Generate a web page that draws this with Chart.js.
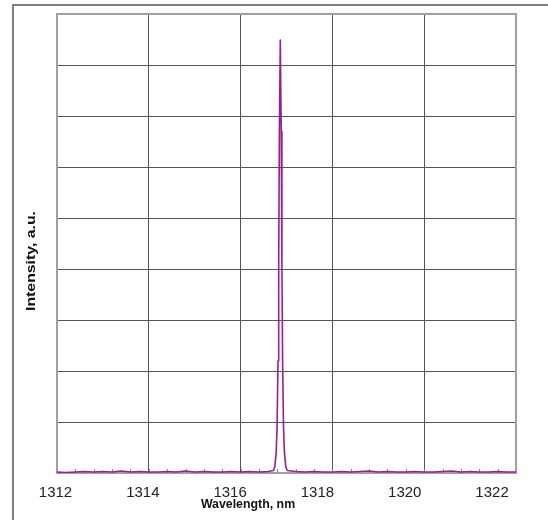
<!DOCTYPE html>
<html>
<head>
<meta charset="utf-8">
<script src="https://cdn.jsdelivr.net/npm/chart.js@4/dist/chart.umd.min.js"></script>
<style>
  html, body { margin: 0; padding: 0; background: #fff; }
  #wrap { width: 548px; height: 520px; }
</style>
</head>
<body>
<div id="wrap"><canvas id="spectrum" width="548" height="520"></canvas></div>
<script>
// spectrum: flat baseline with one narrow line near 1316.87 nm
const baseWavelengths = [
  1312.0, 1312.2, 1312.4, 1312.6, 1312.8, 1313.0, 1313.2, 1313.4, 1313.6, 1313.8,
  1314.0, 1314.2, 1314.4, 1314.6, 1314.8, 1315.0, 1315.2, 1315.4, 1315.6, 1315.8,
  1316.0, 1316.2, 1316.4, 1316.6
];
const baseIntensity = [
  0.02, 0.01, 0.02, 0.03, 0.02, 0.03, 0.02, 0.04, 0.02, 0.03,
  0.02, 0.02, 0.03, 0.02, 0.04, 0.02, 0.03, 0.02, 0.02, 0.03,
  0.02, 0.03, 0.02, 0.03
];
const peakWavelengths = [
  1316.715, 1316.745, 1316.775, 1316.795, 1316.815, 1316.83, 1316.845, 1316.865,
  1316.885, 1316.9, 1316.915, 1316.935, 1316.955, 1316.985, 1317.015
];
const peakIntensity = [
  0.05, 0.12, 0.4, 0.9, 2.2, 4.1, 6.7, 8.49,
  6.7, 4.1, 2.2, 0.9, 0.4, 0.12, 0.05
];
const tailWavelengths = [
  1317.2, 1317.4, 1317.6, 1317.8, 1318.0, 1318.2, 1318.4, 1318.6, 1318.8, 1319.0,
  1319.2, 1319.4, 1319.6, 1319.8, 1320.0, 1320.2, 1320.4, 1320.6, 1320.8, 1321.0,
  1321.2, 1321.4, 1321.6, 1321.8, 1322.0
];
const tailIntensity = [
  0.03, 0.02, 0.03, 0.02, 0.02, 0.03, 0.02, 0.03, 0.04, 0.02,
  0.03, 0.02, 0.02, 0.03, 0.02, 0.02, 0.03, 0.04, 0.02, 0.03,
  0.02, 0.02, 0.03, 0.02, 0.02
];

const xTickLabels = [1312, 1314, 1316, 1318, 1320, 1322];
const xTitle = "Wavelength, nm";
const yTitle = "Intensity, a.u.";

const wavelengths = baseWavelengths.concat(peakWavelengths, tailWavelengths);
const intensity = baseIntensity.concat(peakIntensity, tailIntensity);
const points = wavelengths.map((w, i) => ({ x: w, y: intensity[i] }));

// frame, plot border, minor ticks and axis titles
const decorations = {
  id: "decorations",
  beforeDraw(chart) {
    const ctx = chart.ctx;
    ctx.save();
    ctx.strokeStyle = "#555";
    ctx.lineWidth = 1.5;
    ctx.beginPath();
    ctx.moveTo(13, 520);
    ctx.lineTo(13, 5);
    ctx.lineTo(548, 5);
    ctx.stroke();
    ctx.restore();
  },
  beforeDatasetsDraw(chart) {
    const { ctx, chartArea } = chart;
    const x = chart.scales.x;
    ctx.save();
    ctx.strokeStyle = "#a0a0a0";
    ctx.lineWidth = 2;
    ctx.strokeRect(chartArea.left, chartArea.top, chartArea.width, chartArea.height);
    ctx.strokeStyle = "#888";
    ctx.lineWidth = 1;
    ctx.beginPath();
    for (let v = 1312.4; v < 1322; v += 0.4) {
      const px = Math.round(x.getPixelForValue(v)) + 0.5;
      ctx.moveTo(px, chartArea.bottom);
      ctx.lineTo(px, chartArea.bottom - 4);
    }
    ctx.stroke();
    ctx.restore();
  },
  afterDraw(chart) {
    const ctx = chart.ctx;
    ctx.save();
    ctx.fillStyle = "#111";
    ctx.textAlign = "center";
    ctx.textBaseline = "alphabetic";
    ctx.save();
    ctx.translate(248, 508);
    ctx.scale(0.95, 1);
    ctx.font = "bold 13px 'Liberation Sans', Arial, sans-serif";
    ctx.fillText(xTitle, 0, 0);
    ctx.restore();
    ctx.translate(35, 261);
    ctx.rotate(-Math.PI / 2);
    ctx.scale(1.32, 1);
    ctx.font = "bold 12px 'Liberation Sans', Arial, sans-serif";
    ctx.fillText(yTitle, 0, 0);
    ctx.restore();
  }
};

new Chart(document.getElementById("spectrum"), {
  type: "line",
  data: {
    datasets: [{
      data: points,
      borderColor: "#961e98",
      borderWidth: 1.6,
      borderJoinStyle: "round",
      pointRadius: 0,
      tension: 0
    }]
  },
  options: {
    responsive: false,
    animation: false,
    devicePixelRatio: 1,
    layout: { padding: { left: 0, top: 14, right: 32, bottom: 0 } },
    plugins: { legend: { display: false }, tooltip: { enabled: false } },
    scales: {
      x: {
        type: "linear",
        position: "bottom",
        min: 1312,
        max: 1322,
        ticks: { display: false, stepSize: 2 },
        grid: { color: "#555", lineWidth: 1, drawTicks: false },
        border: { display: false },
        afterFit(scale) { scale.height = 0; }
      },
      // tick labels sit slightly compressed in the reference, so they get their own axis
      xl: {
        type: "linear",
        position: "bottom",
        min: 1312.034,
        max: 1322.549,
        afterBuildTicks(scale) { scale.ticks = xTickLabels.map(v => ({ value: v })); },
        ticks: {
          padding: 11,
          color: "#222",
          font: { family: "'Liberation Sans', Arial, sans-serif", size: 15 },
          maxRotation: 0,
          autoSkip: false,
          callback: (v) => String(v)
        },
        grid: { display: false, drawTicks: false },
        border: { display: false },
        afterFit(scale) { scale.height = 47; }
      },
      y: {
        min: 0,
        max: 9,
        ticks: { display: false, stepSize: 1 },
        grid: { color: "#555", lineWidth: 1, drawTicks: false },
        border: { display: false },
        afterFit(scale) { scale.width = 57; }
      }
    }
  },
  plugins: [decorations]
});
</script>
</body>
</html>
